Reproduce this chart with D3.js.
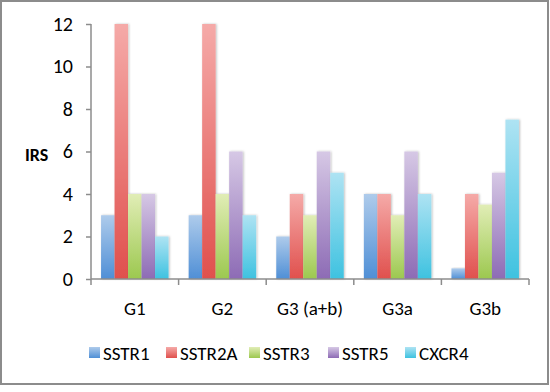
<!DOCTYPE html>
<html><head><meta charset="utf-8">
<script src="https://cdn.jsdelivr.net/npm/d3@7"></script>
<style>body{margin:0;background:#fff}svg{display:block}text{font-family:Carlito,Lato,"Open Sans",sans-serif}</style>
</head><body><svg id="c" width="550" height="392"></svg>
<script>
const categories = ["G1","G2","G3 (a+b)","G3a","G3b"];
const seriesNames = ["SSTR1","SSTR2A","SSTR3","SSTR5","CXCR4"];
const SSTR1 = [3,3,2,4,0.5];
const SSTR2A = [12,12,4,4,4];
const SSTR3 = [4,4,3,3,3.5];
const SSTR5 = [4,6,6,6,5];
const CXCR4 = [2,3,5,4,7.5];
const yTicks = [0,2,4,6,8,10,12];
const colorsTop = ["#aecbeb","#f5aaa8","#e1edb6","#d6c8e5","#aee3f3"];
const colorsBot = ["#4f8fd6","#e0504d","#9cc84f","#8d6bb5","#3ec2e0"];
const values = [SSTR1,SSTR2A,SSTR3,SSTR5,CXCR4];

const svg = d3.select("#c");
svg.append("rect").attr("x",1).attr("y",1).attr("width",547).attr("height",383)
  .attr("fill","#fff").attr("stroke","#8c8c8c").attr("stroke-width",2);

const defs = svg.append("defs");
seriesNames.forEach((s,i)=>{
  const g = defs.append("linearGradient").attr("id","g"+i).attr("x1",0).attr("y1",0).attr("x2",0).attr("y2",1);
  g.append("stop").attr("offset","0%").attr("stop-color",colorsTop[i]);
  g.append("stop").attr("offset","100%").attr("stop-color",colorsBot[i]);
});
const f = defs.append("filter").attr("id","sh").attr("x","-20%").attr("y","-5%").attr("width","150%").attr("height","115%");
f.append("feDropShadow").attr("dx",1).attr("dy",0).attr("stdDeviation",0.8).attr("flood-color","#000").attr("flood-opacity",0.25);

const x0 = 91, x1 = 529, yb = 279, yt = 24;
const x = d3.scaleBand().domain(categories).range([x0,x1]).paddingInner(0).paddingOuter(0);
const xs = d3.scaleBand().domain(seriesNames).range([0,x.bandwidth()]).paddingInner(0).paddingOuter(0.745);
const y = d3.scaleLinear().domain([0,12]).range([yb,yt]);

// bars
categories.forEach((c,ci)=>{
  seriesNames.forEach((s,si)=>{
    const v = values[si][ci];
    svg.append("rect")
      .attr("x", x(c)+xs(s)).attr("y", y(v))
      .attr("width", xs.bandwidth()).attr("height", y(0)-y(v))
      .attr("fill","url(#g"+si+")").attr("filter","url(#sh)");
  });
});

// y axis
const yAxis = svg.append("g").attr("transform",`translate(${x0},0)`)
  .call(d3.axisLeft(y).tickValues(yTicks).tickSize(5).tickPadding(13));
yAxis.selectAll("path,line").attr("stroke","#8c8c8c").attr("stroke-width",1.5);
yAxis.select("path").attr("d",`M0,${yt}V${yb}`);
yAxis.selectAll("text").attr("font-size",20).attr("fill","#000").attr("font-family","Carlito,Lato,sans-serif");

// x axis
const xa = svg.append("g");
xa.append("line").attr("x1",x0).attr("x2",x1).attr("y1",yb).attr("y2",yb).attr("stroke","#8c8c8c").attr("stroke-width",1.5);
const bounds = categories.map(c=>x(c)).concat([x1]);
xa.selectAll("line.t").data(bounds).enter().append("line").attr("class","t")
  .attr("x1",d=>d).attr("x2",d=>d).attr("y1",yb).attr("y2",yb+6).attr("stroke","#8c8c8c").attr("stroke-width",1.5);
xa.selectAll("text").data(categories).enter().append("text")
  .attr("x",d=>x(d)+x.bandwidth()/2).attr("y",315).attr("text-anchor","middle")
  .attr("font-size",19).text(d=>d);

svg.append("text").attr("x",25).attr("y",161).attr("font-size",18).attr("font-weight","bold").text("IRS");

// legend
const legX = [89,166,249,328,405];
seriesNames.forEach((s,i)=>{
  svg.append("rect").attr("x",legX[i]).attr("y",347).attr("width",11).attr("height",11)
    .attr("fill","url(#g"+i+")");
  svg.append("text").attr("x",legX[i]+14).attr("y",360).attr("font-size",19).text(s);
});
</script></body></html>
